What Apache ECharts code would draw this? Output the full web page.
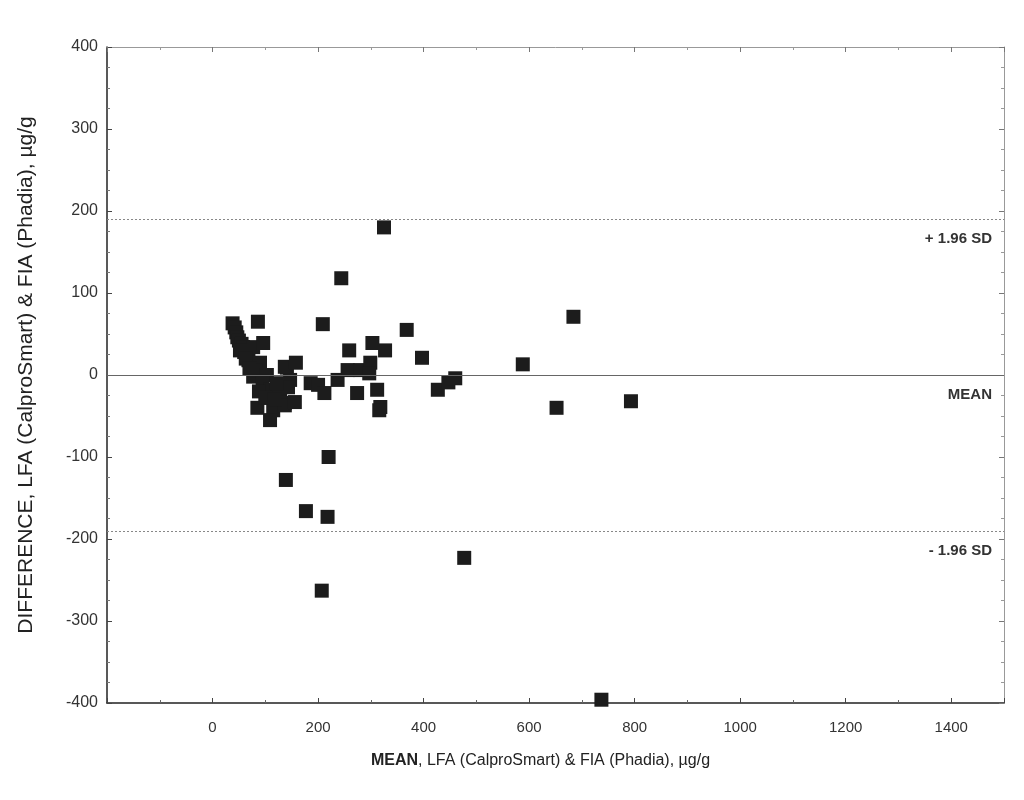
<!DOCTYPE html>
<html>
<head>
<meta charset="utf-8">
<script src="https://cdn.jsdelivr.net/npm/echarts@6/dist/echarts.min.js"></script>
<style>
  html, body { margin: 0; padding: 0; background: #fff; }
  #chart { width: 1024px; height: 800px; }
</style>
</head>
<body>
<div id="chart"></div>
<script>
// mean of the two methods (µg/g)
const meanValues = [
  38, 42, 45, 47, 50, 55, 58, 60, 65, 68, 72, 77, 86, 96, 90, 77, 82, 103, 95,
  141, 147, 109, 128, 85, 115, 137, 109,
  137, 158, 143, 137, 156, 186, 200, 212, 237, 256, 280, 299, 297, 274, 312, 318, 316,
  259, 303, 327, 209,
  368, 397, 684, 588, 427, 447, 460, 652, 793, 737, 325, 244, 220, 139, 177, 218, 477, 207,
  52, 63, 70, 88, 100, 118, 122
];
// difference LFA - FIA (µg/g)
const diffValues = [
  63, 58, 52, 46, 42, 38, 34, 28, 24, 18, 12, 34, 65, 39, 15, -2, 5, 0, -8,
  9, -6, -18, -22, -40, -43, -34, -55,
  10, 15, -15, -37, -33, -10, -12, -22, -6, 6, 6, 15, 2, -22, -18, -39, -43,
  30, 39, 30, 62,
  55, 21, 71, 13, -18, -9, -4, -40, -32, -396, 180, 118, -100, -128, -166, -173, -223, -263,
  30, 20, 8, -20, -28, -30, -10
];

const limitLines = [
  { value: 190, label: '+ 1.96 SD', dotted: true },
  { value: 0, label: 'MEAN', dotted: false },
  { value: -191, label: '- 1.96 SD', dotted: true }
];

const points = meanValues.map((m, i) => [m, diffValues[i]]);

const chart = echarts.init(document.getElementById('chart'));

const font = 'Liberation Sans, Arial, sans-serif';

chart.setOption({
  animation: false,
  grid: { left: 107, right: 20, top: 47, bottom: 97 },
  xAxis: [
    {
      type: 'value', position: 'bottom', min: -200, max: 1500, interval: 200,
      axisLine: { onZero: false, lineStyle: { color: '#222', width: 1.5 } },
      axisTick: { inside: true, length: 5, lineStyle: { color: '#444' } },
      minorTick: { show: true, splitNumber: 2, length: 3, lineStyle: { color: '#666' } },
      splitLine: { show: false },
      axisLabel: {
        color: '#333', fontFamily: font, fontSize: 15, margin: 17,
        showMaxLabel: false,
        formatter: v => (v < 0 || v > 1400 ? '' : v)
      },
      name: '{b|MEAN}, LFA (CalproSmart) & FIA (Phadia), µg/g',
      nameLocation: 'middle', nameGap: 50,
      nameTextStyle: {
        color: '#222', fontFamily: font, fontSize: 16,
        padding: [0, 30, 0, 0],
        rich: { b: { fontWeight: 'bold', fontFamily: font, fontSize: 16, color: '#222' } }
      }
    },
    {
      type: 'value', position: 'top', min: -200, max: 1500, interval: 200,
      axisLine: { show: true, onZero: false, lineStyle: { color: '#999' } },
      axisTick: { inside: true, length: 5, lineStyle: { color: '#777' } },
      minorTick: { show: true, splitNumber: 2, length: 3, lineStyle: { color: '#999' } },
      splitLine: { show: false },
      axisLabel: { show: false }
    }
  ],
  yAxis: [
    {
      type: 'value', position: 'left', min: -400, max: 400, interval: 100,
      axisLine: { show: true, onZero: false, lineStyle: { color: '#222', width: 1.5 } },
      axisTick: { inside: true, length: 5, lineStyle: { color: '#444' } },
      minorTick: { show: true, splitNumber: 4, length: 3, lineStyle: { color: '#777' } },
      splitLine: { show: false },
      axisLabel: { color: '#333', fontFamily: font, fontSize: 16, margin: 9 },
      name: 'DIFFERENCE, LFA (CalproSmart) & FIA (Phadia), µg/g',
      nameLocation: 'middle', nameGap: 70,
      nameTextStyle: { color: '#222', fontFamily: font, fontSize: 21 }
    },
    {
      type: 'value', position: 'right', min: -400, max: 400, interval: 100,
      axisLine: { show: true, onZero: false, lineStyle: { color: '#999' } },
      axisTick: { inside: true, length: 5, lineStyle: { color: '#777' } },
      minorTick: { show: true, splitNumber: 4, length: 3, lineStyle: { color: '#999' } },
      splitLine: { show: false },
      axisLabel: { show: false }
    }
  ],
  series: [
    {
      type: 'scatter',
      data: points,
      symbol: 'rect',
      symbolSize: 14,
      itemStyle: { color: '#1c1c1c', opacity: 1 },
      markLine: {
        silent: true,
        symbol: 'none',
        data: limitLines.map(l => ({
          yAxis: l.value,
          lineStyle: l.dotted
            ? { color: '#888', type: [2, 2], width: 1 }
            : { color: '#666', type: 'solid', width: 1.2 },
          label: {
            show: true, position: 'insideEndBottom', formatter: l.label,
            color: '#333', fontWeight: 'bold', fontFamily: font, fontSize: 15,
            distance: [12, 12]
          }
        }))
      }
    }
  ]
});
</script>
</body>
</html>
